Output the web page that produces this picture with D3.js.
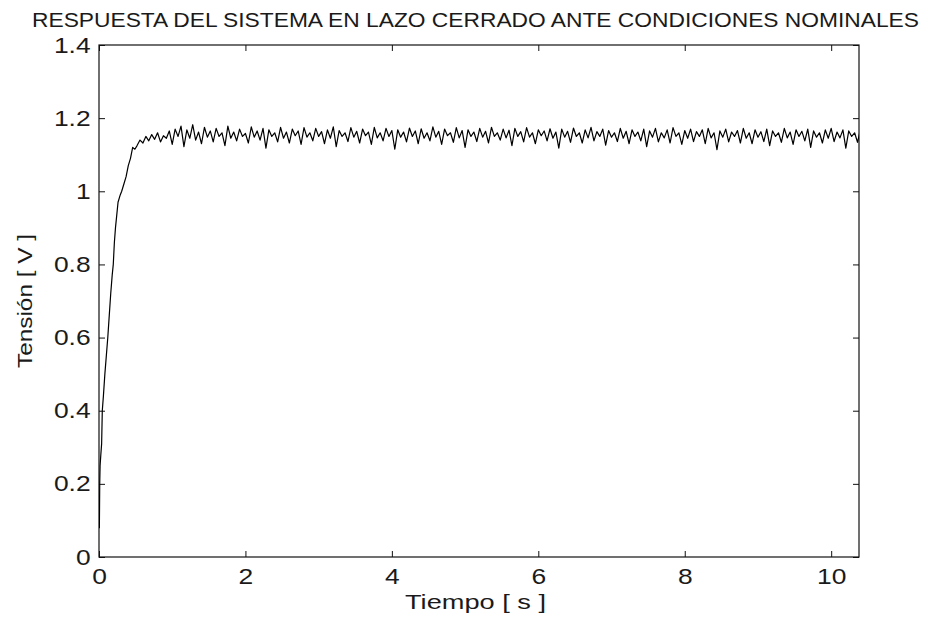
<!DOCTYPE html>
<html>
<head>
<meta charset="utf-8">
<script src="https://cdn.jsdelivr.net/npm/d3@7"></script>
<style>
    body { margin: 0; background: #fff; }
    text { font-family: "Liberation Sans", Arial, sans-serif; fill: #1a1a1a; }
</style>
</head>
<body>
<div id="chart"></div>
<script>

// ----- data -----
let xTicks = [0, 2, 4, 6, 8, 10];
let yTicks = [0, 0.2, 0.4, 0.6, 0.8, 1, 1.2, 1.4];

// transient (rise)
let riseTime = [0, 0.005, 0.01, 0.015, 0.025, 0.036, 0.045, 0.06, 0.08, 0.1, 0.12, 0.14, 0.16, 0.18,
    0.195, 0.21, 0.225, 0.24, 0.26, 0.29, 0.31, 0.34, 0.37, 0.4, 0.43, 0.46, 0.49];
let riseVolt = [0.1, 0.08, 0.2, 0.25, 0.28, 0.31, 0.4, 0.44, 0.5, 0.55, 0.6, 0.66, 0.72, 0.77,
    0.8, 0.86, 0.9, 0.93, 0.97, 0.99, 1.0, 1.02, 1.04, 1.07, 1.09, 1.12, 1.115];

// steady state, sampled every 0.04 s from 0.52 s
let steadyStart = 0.52;
let steadyStep = 0.04;
let steadyVolt = [
    1.125, 1.140, 1.132, 1.150, 1.138, 1.155, 1.142, 1.160, 1.135, 1.152,
    1.145, 1.165, 1.128, 1.170, 1.150, 1.178, 1.122, 1.168, 1.145, 1.182,
    1.140, 1.162, 1.130, 1.175, 1.148, 1.165, 1.135, 1.172, 1.150, 1.160,
    1.125, 1.178, 1.145, 1.162, 1.138, 1.170, 1.150, 1.158, 1.132, 1.176,
    1.148, 1.165, 1.140, 1.172, 1.118, 1.168, 1.150, 1.160, 1.135, 1.175,
    1.145, 1.162, 1.132, 1.170, 1.152, 1.165, 1.128, 1.174, 1.148, 1.160,
    1.138, 1.172, 1.150, 1.163, 1.130, 1.168, 1.145, 1.176, 1.122, 1.166,
    1.150, 1.160, 1.136, 1.174, 1.148, 1.164, 1.132, 1.170, 1.152, 1.162,
    1.128, 1.175, 1.146, 1.160, 1.138, 1.172, 1.150, 1.166, 1.115, 1.168,
    1.148, 1.162, 1.135, 1.173, 1.150, 1.165, 1.130, 1.171, 1.145, 1.160,
    1.138, 1.176, 1.148, 1.164, 1.128, 1.170, 1.152, 1.160, 1.134, 1.174,
    1.146, 1.166, 1.120, 1.168, 1.150, 1.162, 1.136, 1.172, 1.148, 1.164,
    1.132, 1.175, 1.150, 1.160, 1.140, 1.170, 1.146, 1.167, 1.125, 1.172,
    1.150, 1.163, 1.135, 1.174, 1.148, 1.160, 1.130, 1.168, 1.152, 1.165,
    1.138, 1.171, 1.145, 1.162, 1.118, 1.170, 1.148, 1.164, 1.134, 1.173,
    1.150, 1.160, 1.132, 1.168, 1.146, 1.175, 1.138, 1.163, 1.150, 1.170,
    1.126, 1.166, 1.148, 1.160, 1.136, 1.172, 1.145, 1.164, 1.130, 1.168,
    1.150, 1.162, 1.138, 1.170, 1.122, 1.165, 1.148, 1.172, 1.135, 1.160,
    1.146, 1.168, 1.132, 1.174, 1.150, 1.160, 1.128, 1.166, 1.145, 1.170,
    1.136, 1.163, 1.150, 1.168, 1.130, 1.172, 1.146, 1.160, 1.114, 1.165,
    1.148, 1.170, 1.135, 1.162, 1.150, 1.166, 1.132, 1.172, 1.145, 1.160,
    1.130, 1.168, 1.148, 1.163, 1.136, 1.170, 1.125, 1.165, 1.150, 1.160,
    1.134, 1.172, 1.146, 1.162, 1.128, 1.168, 1.150, 1.164, 1.138, 1.170,
    1.120, 1.165, 1.148, 1.160, 1.132, 1.168, 1.145, 1.172, 1.136, 1.162,
    1.146, 1.168, 1.118, 1.165, 1.150, 1.160, 1.134, 1.170, 1.140
];

let titleText = "RESPUESTA DEL SISTEMA EN LAZO CERRADO ANTE CONDICIONES NOMINALES";
let xLabelText = "Tiempo [ s ]";
let yLabelText = "Tensión [ V ]";

// build the point list
let points = riseTime.map((t, i) => ({t: t, v: riseVolt[i]}));
steadyVolt.forEach((v, i) => points.push({t: steadyStart + i * steadyStep, v: v}));

// ----- layout -----
let width = 928, height = 623;
let margin = {top: 45, right: 69, bottom: 66, left: 99};
let plotW = width - margin.left - margin.right;
let plotH = height - margin.top - margin.bottom;
let stretch = 1.2; // the picture text is a little wide

let svg = d3.select("#chart").append("svg")
    .attr("width", width)
    .attr("height", height);

let x = d3.scaleLinear().domain([0, 10.38]).range([0, plotW]);
let y = d3.scaleLinear().domain([0, 1.4]).range([plotH, 0]);

let g = svg.append("g")
    .attr("transform", `translate(${margin.left}, ${margin.top})`);

g.append("clipPath").attr("id", "plot-clip")
    .append("rect").attr("width", plotW).attr("height", plotH);

// axes, ticks pointing inside like matlab
let xBottom = g.append("g")
    .attr("transform", `translate(0, ${plotH})`)
    .call(d3.axisBottom(x).tickValues(xTicks).tickFormat(d3.format("~g"))
        .tickSizeInner(-6).tickSizeOuter(0).tickPadding(11));
let xTop = g.append("g")
    .call(d3.axisTop(x).tickValues(xTicks).tickFormat("")
        .tickSizeInner(-6).tickSizeOuter(0));
let yLeft = g.append("g")
    .call(d3.axisLeft(y).tickValues(yTicks).tickFormat(d3.format("~g"))
        .tickSizeInner(-6).tickSizeOuter(0).tickPadding(7));
let yRight = g.append("g")
    .attr("transform", `translate(${plotW}, 0)`)
    .call(d3.axisRight(y).tickValues(yTicks).tickFormat("")
        .tickSizeInner(-6).tickSizeOuter(0));

[xBottom, xTop, yLeft, yRight].forEach(a => {
    a.select(".domain").remove();
    a.selectAll("line").attr("stroke", "#111");
    a.selectAll("text")
        .attr("font-size", 22)
        .attr("font-family", "Liberation Sans, Arial, sans-serif")
        .attr("fill", "#1a1a1a")
        .attr("transform", `scale(${stretch}, 1)`);
});

// frame
g.append("rect")
    .attr("width", plotW)
    .attr("height", plotH)
    .attr("fill", "none")
    .attr("stroke", "#111")
    .attr("stroke-width", 1.2);

// response line
let line = d3.line()
    .x(d => x(d.t))
    .y(d => y(d.v));

g.append("path")
    .datum(points)
    .attr("clip-path", "url(#plot-clip)")
    .attr("fill", "none")
    .attr("stroke", "#000")
    .attr("stroke-width", 1.2)
    .attr("stroke-linejoin", "round")
    .attr("d", line);

// title and labels
svg.append("text")
    .attr("x", 475.5)
    .attr("y", 27)
    .attr("text-anchor", "middle")
    .attr("font-size", 19.5)
    .attr("textLength", 887)
    .attr("lengthAdjust", "spacingAndGlyphs")
    .text(titleText);

svg.append("text")
    .attr("x", 475.5)
    .attr("y", 609)
    .attr("text-anchor", "middle")
    .attr("font-size", 21)
    .attr("textLength", 141)
    .attr("lengthAdjust", "spacingAndGlyphs")
    .text(xLabelText);

svg.append("text")
    .attr("transform", `translate(32, ${margin.top + plotH / 2}) rotate(-90)`)
    .attr("text-anchor", "middle")
    .attr("font-size", 21)
    .attr("textLength", 134)
    .attr("lengthAdjust", "spacingAndGlyphs")
    .text(yLabelText);

</script>
</body>
</html>
